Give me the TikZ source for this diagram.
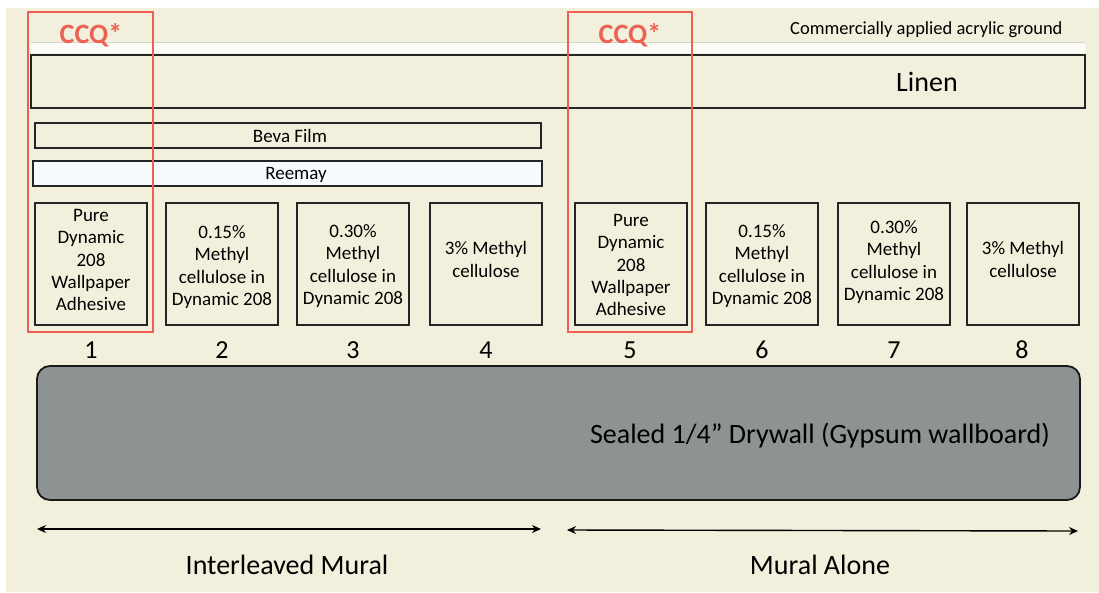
\documentclass[tikz,border=0pt]{standalone}
\usepackage{fontspec}
\setmainfont{Carlito}
\usetikzlibrary{arrows.meta}
\definecolor{bgbeige}{HTML}{F2F0DC}
\definecolor{ccqred}{HTML}{EE6152}
\definecolor{wallgray}{HTML}{8D9293}
\definecolor{groundwhite}{HTML}{FBFCF8}
\definecolor{reemaywhite}{HTML}{F8FBFD}
\definecolor{stripline}{HTML}{D6D6C8}
\tikzset{
  layer/.style={draw=black!85, line width=1.6pt, fill=bgbeige, inner sep=0pt},
  sample/.style={draw=black!85, line width=1.6pt, fill=bgbeige, inner sep=0pt,
    minimum width=112pt, minimum height=122pt},
  sampletext/.style={align=center, inner sep=0pt, font=\fontsize{19}{22.3}\selectfont},
  num/.style={font=\fontsize{26}{28}\selectfont},
  ccqbox/.style={draw=ccqred, line width=2.4pt},
  ccqlabel/.style={text=ccqred, font=\bfseries\fontsize{28}{30}\selectfont},
  span/.style={line width=1.4pt, {Stealth[length=9pt,width=8pt]}-{Stealth[length=9pt,width=8pt]}},
  biglabel/.style={font=\fontsize{28}{32}\selectfont}
}
\begin{document}
\begin{tikzpicture}[x=1pt,y=-1pt]
\useasboundingbox (0,0) rectangle (1099,592);
\fill[bgbeige] (6,8) rectangle (1099,592);

% acrylic ground strip
\fill[groundwhite] (31,42) rectangle (1085,53);
\draw[stripline, line width=0.6pt] (31,42) -- (1085,42);
\node[anchor=east, font=\fontsize{18.5}{20}\selectfont] (ground) at (1066,30) {Commercially applied acrylic ground};

% linen
\draw[layer] (31,55) rectangle (1085,108);
\node[font=\fontsize{28}{30}\selectfont] (linen) at (927,82) {Linen};

% beva and reemay
\draw[layer] (35,123) rectangle (541,148);
\node[font=\fontsize{19}{21}\selectfont] (beva) at (290,136) {Beva Film};
\draw[layer, fill=reemaywhite] (33,161) rectangle (542,186);
\node[font=\fontsize{19}{21}\selectfont] (reemay) at (296,175) {Reemay};

% samples
\node[sample] (s1) at (91,264) {};
\node[sample] (s2) at (222,264) {};
\node[sample] (s3) at (353,264) {};
\node[sample] (s4) at (486,264) {};
\node[sample] (s5) at (631,264) {};
\node[sample] (s6) at (762,264) {};
\node[sample] (s7) at (894,264) {};
\node[sample] (s8) at (1023,264) {};
\node[sampletext] (t1) at ([yshift=4pt]s1.center) {Pure\\Dynamic\\208\\Wallpaper\\Adhesive};
\node[sampletext] (t2) at ([yshift=-3pt]s2.center) {0.15\%\\Methyl\\cellulose in\\Dynamic 208};
\node[sampletext] (t3) at ([yshift=-2pt]s3.center) {0.30\%\\Methyl\\cellulose in\\Dynamic 208};
\node[sampletext] (t4) at ([yshift=4.5pt]s4.center) {3\% Methyl\\cellulose};
\node[sampletext] (t5) at ([yshift=-1pt]s5.center) {Pure\\Dynamic\\208\\Wallpaper\\Adhesive};
\node[sampletext] (t6) at ([yshift=-2pt]s6.center) {0.15\%\\Methyl\\cellulose in\\Dynamic 208};
\node[sampletext] (t7) at ([yshift=2pt]s7.center) {0.30\%\\Methyl\\cellulose in\\Dynamic 208};
\node[sampletext] (t8) at ([yshift=4.5pt]s8.center) {3\% Methyl\\cellulose};

% numbers
\node[num] (n1) at (91,350) {1};
\node[num] (n2) at (222,350) {2};
\node[num] (n3) at (353,350) {3};
\node[num] (n4) at (486,350) {4};
\node[num] (n5) at (630,350) {5};
\node[num] (n6) at (762,350) {6};
\node[num] (n7) at (894,350) {7};
\node[num] (n8) at (1022,350) {8};

% drywall
\draw[draw=black!90, line width=1.8pt, fill=wallgray, rounded corners=13pt] (37,366) rectangle (1080,500);
\node[font=\fontsize{28}{30}\selectfont] (wall) at (820,436) {Sealed 1/4” Drywall (Gypsum wallboard)};

% CCQ boxes
\draw[ccqbox] (28,12) rectangle (153,332);
\node[ccqlabel] (c1) at (91,35) {CCQ*};
\draw[ccqbox] (568,12) rectangle (692,332);
\node[ccqlabel] (c2) at (630,35) {CCQ*};

% spans
\coordinate (a1) at (37,529);
\coordinate (a2) at (541,529);
\coordinate (b1) at (567,530);
\coordinate (b2) at (1078,531);
\draw[span] (a1) -- (a2);
\draw[span] (b1) -- (b2);
\node[biglabel] (l1) at (287,565) {Interleaved Mural};
\node[biglabel] (l2) at (820,565) {Mural Alone};
\end{tikzpicture}
\end{document}
